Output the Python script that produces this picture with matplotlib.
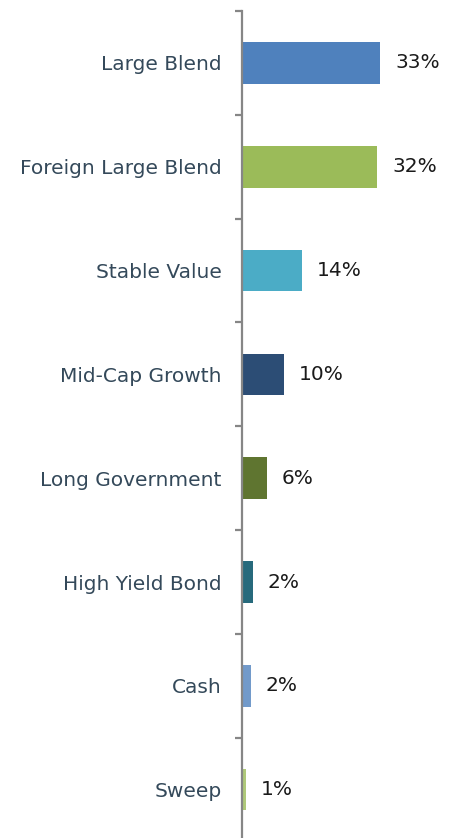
import matplotlib
matplotlib.use("Agg")
import matplotlib.pyplot as plt
import numpy as np

categories = ["Large Blend", "Foreign Large Blend", "Stable Value", "Mid-Cap Growth",
              "Long Government", "High Yield Bond", "Cash", "Sweep"]
values = [33.0, 32.3, 14.3, 10.0, 6.0, 2.6, 2.1, 1.0]
value_labels = ["33%", "32%", "14%", "10%", "6%", "2%", "2%", "1%"]
colors = ["#4F81BD", "#9BBB59", "#4BACC6", "#2C4D75", "#5F7530", "#276A7C", "#729ACA", "#AFC97A"]

W, H = 456, 838
fig = plt.figure(figsize=(W / 100, H / 100), dpi=100)
left = 242 / W
top = 1 - 11 / H
bottom = 1 - 841.6 / H
ax = fig.add_axes([left, bottom, 1 - left, top - bottom])

y = np.arange(len(categories))
ax.barh(y, values, height=0.4, color=colors)
ax.set_ylim(len(categories) - 0.5, -0.5)
ax.set_xlim(0, 214 / 4.18)

for s in ["top", "right", "bottom"]:
    ax.spines[s].set_visible(False)
ax.spines["left"].set_color("#868686")
ax.spines["left"].set_linewidth(1.6)
ax.set_xticks([])

ax.set_yticks(y)
ax.set_yticklabels(categories, fontsize=14.5, color="#34495A", family="DejaVu Sans")
ax.tick_params(axis="y", which="major", length=0, pad=14.5)
ax.set_yticks(np.arange(-0.5, len(categories) + 0.5, 1), minor=True)
ax.tick_params(axis="y", which="minor", length=5, width=1.6, color="#868686", direction="out")

for yi, v, lab in zip(y, values, value_labels):
    ax.text(v + 15 / 4.18, yi, lab, va="center", ha="left", fontsize=14.5, color="#1a1a1a")

fig.savefig("out.png", dpi=100)
